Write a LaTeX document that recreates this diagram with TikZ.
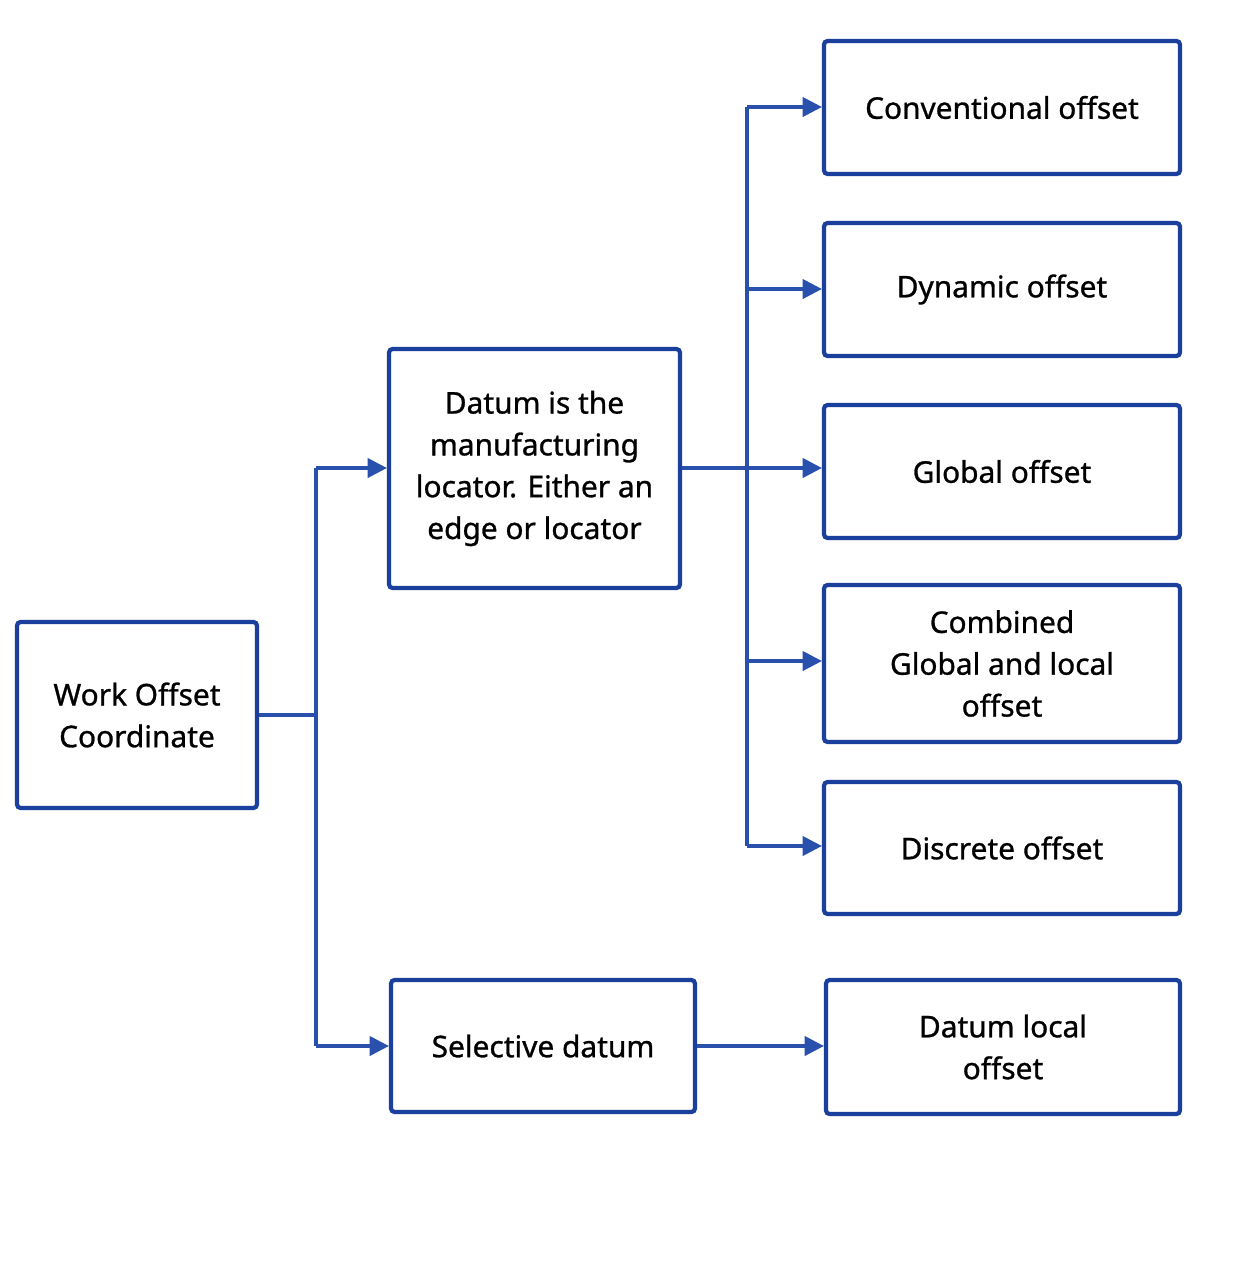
\documentclass[tikz,border=0pt]{standalone}
\usepackage{fontspec}
\setmainfont{Noto Sans}
\newfontfamily\lblfont{Noto Sans}[FakeBold=0.9]
\usetikzlibrary{arrows.meta}
\definecolor{boxblue}{HTML}{1B3F9C}
\definecolor{lineblue}{HTML}{2A50AE}
\tikzset{
  box/.style={draw=boxblue, line width=2.4pt, rounded corners=2pt, fill=white, align=center, inner sep=0pt,
    font=\lblfont\fontsize{17}{23.8}\selectfont},
  conn/.style={draw=lineblue, line width=1.8pt},
  arr/.style={conn, -{Triangle[length=11pt,width=11pt]}},
}
\begin{document}
\begin{tikzpicture}[x=0.02cm,y=-0.02cm]
\fill[white] (0,0) rectangle (1239,1269);
\useasboundingbox (0,0) rectangle (1239,1269);
% boxes
\node[box, minimum width=4.8cm, minimum height=3.72cm] (wo) at (137,715) {Work Offset\\Coordinate};
\node[box, minimum width=5.82cm, minimum height=4.78cm] (dt) at (534.5,468.5) {Datum is the\\manufacturing\\locator. Either an\\edge or locator};
\node[box, minimum width=6.08cm, minimum height=2.64cm] (sd) at (543,1046) {Selective datum};
\node[box, minimum width=7.12cm, minimum height=2.66cm] (c1) at (1002,107.5) {Conventional offset};
\node[box, minimum width=7.12cm, minimum height=2.66cm] (c2) at (1002,289.5) {Dynamic offset};
\node[box, minimum width=7.12cm, minimum height=2.66cm] (c3) at (1002,471.5) {Global offset};
\node[box, minimum width=7.12cm, minimum height=3.14cm] (c4) at (1002,663.5) {Combined\\Global and local\\offset};
\node[box, minimum width=7.12cm, minimum height=2.64cm] (c5) at (1002,848) {Discrete offset};
\node[box, minimum width=7.08cm, minimum height=2.68cm] (dl) at (1003,1047) {Datum local\\offset};
% bus coordinates
\coordinate (b1) at (316,715);
\coordinate (b1t) at (316,468);
\coordinate (b1b) at (316,1046);
\coordinate (b2) at (747,468);
\draw[conn] (wo.east |- b1) -- (b1);
\draw[conn] (b1t) -- (b1b);
\draw[arr] (b1t) -- (b1t -| dt.west);
\draw[arr] (b1b) -- (b1b -| sd.west);
% right bus
\draw[conn] (dt.east |- b2) -- (b2);
\draw[conn] (747,107) -- (747,846);
\foreach \n/\yy in {c1/107,c2/289,c3/468,c4/661,c5/846}{
  \draw[arr] (747,\yy) -- (\n.west |- 747,\yy);
}
\draw[arr] (sd.east |- 0,1046) -- (dl.west |- 0,1046);
\end{tikzpicture}
\end{document}
